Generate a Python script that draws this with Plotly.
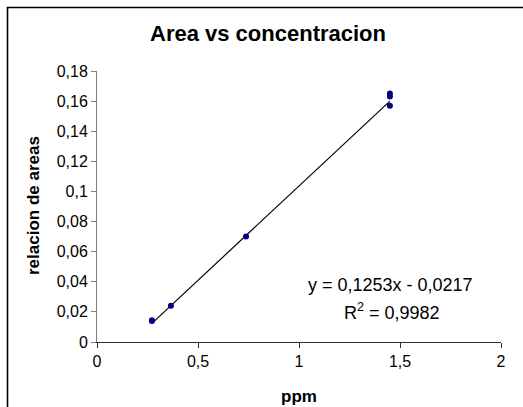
import plotly.graph_objects as go

# Data
ppm = [0.272, 0.272, 0.366, 0.738, 1.45, 1.45, 1.45]
relacion = [0.0145, 0.0140, 0.0240, 0.0700, 0.1650, 0.1630, 0.1570]
slope = 0.1253
intercept = -0.0217
r2 = 0.9982
x_ticks = [0, 0.5, 1, 1.5, 2]
y_ticks = [0, 0.02, 0.04, 0.06, 0.08, 0.1, 0.12, 0.14, 0.16, 0.18]

xmin, xmax = min(ppm), max(ppm)
line_x = [xmin, xmax]
line_y = [slope * v + intercept for v in line_x]

fig = go.Figure()
fig.add_trace(go.Scatter(x=line_x, y=line_y, mode="lines",
                         line=dict(color="black", width=1.2), showlegend=False,
                         hoverinfo="skip"))
fig.add_trace(go.Scatter(x=ppm, y=relacion, mode="markers",
                         marker=dict(color="#000080", size=6), showlegend=False))

W, H = 523, 407
L, R, T, B = 97, 22, 71, 65
pw, ph = W - L - R, H - T - B

def px(xp):
    return (xp - L) / pw

def py(yp):
    return (H - B - yp) / ph

fig.update_layout(
    width=W, height=H,
    margin=dict(l=L, r=R, t=T, b=B, autoexpand=False),
    paper_bgcolor="white", plot_bgcolor="white",
    separators=", ",
    font=dict(family="Liberation Sans, Arial", size=16, color="black"),
    title=dict(text="<b>Area vs concentracion</b>", xref="container", x=268 / W,
               xanchor="center", yref="container", y=1 - 33 / H, yanchor="middle",
               font=dict(size=22, family="Liberation Sans, Arial")),
    xaxis=dict(range=[0, 2], tickvals=x_ticks, showgrid=False, zeroline=False,
               showline=True, linecolor="#303030", linewidth=1,
               ticks="outside", ticklen=5, tickcolor="#303030",
               tickfont=dict(size=16), automargin=False),
    yaxis=dict(range=[0, 0.18], tickvals=y_ticks, showgrid=False, zeroline=False,
               showline=True, linecolor="#808080", linewidth=1,
               ticks="outside", ticklen=5, tickcolor="#808080",
               tickfont=dict(size=16), automargin=False),
    shapes=[dict(type="rect", xref="paper", yref="paper",
                 x0=px(7.5), x1=px(535), y0=py(420), y1=py(7.5),
                 line=dict(color="black", width=1.6), fillcolor="rgba(0,0,0,0)",
                 layer="below")],
    annotations=[
        dict(text="<b>ppm</b>", xref="paper", yref="paper",
             x=px(299), y=py(396), xanchor="center", yanchor="middle",
             showarrow=False, font=dict(size=17)),
        dict(text="<b>relacion de areas</b>", xref="paper", yref="paper",
             x=px(33), y=py(206), xanchor="center", yanchor="middle",
             textangle=-90, showarrow=False, font=dict(size=17)),
        dict(text="y = 0,1253x - 0,0217", xref="paper", yref="paper",
             x=px(390), y=py(285), xanchor="center", yanchor="middle",
             showarrow=False, font=dict(size=18)),
        dict(text="R<sup>2</sup> = 0,9982", xref="paper", yref="paper",
             x=px(392), y=py(311), xanchor="center", yanchor="middle",
             showarrow=False, font=dict(size=18)),
    ],
)

fig.write_html("out.html")
